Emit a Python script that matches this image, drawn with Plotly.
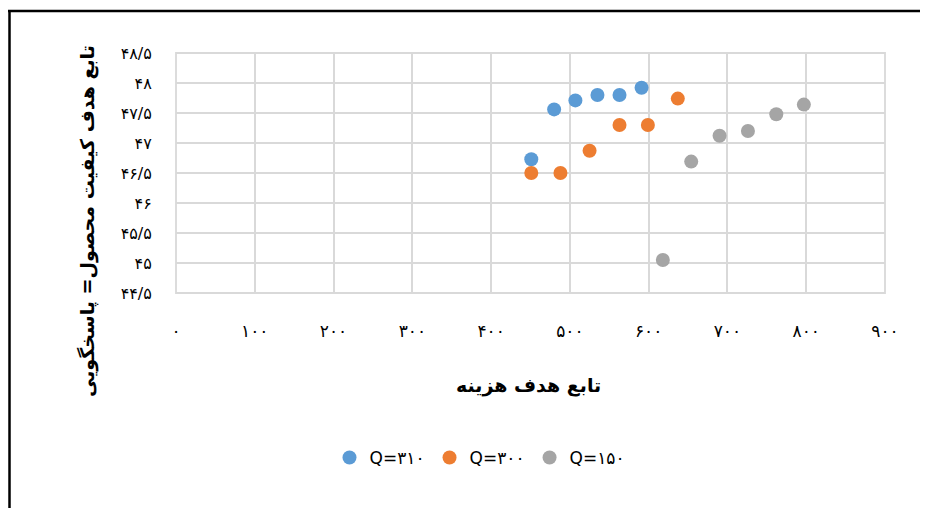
import plotly.graph_objects as go

# ---- data ----
q310_x = [451, 480, 507, 535, 563, 591]
q310_y = [46.73, 47.56, 47.71, 47.80, 47.80, 47.92]

q300_x = [451, 488, 525, 563, 599, 637]
q300_y = [46.50, 46.50, 46.87, 47.30, 47.30, 47.74]

q150_x = [618, 654, 690, 726, 762, 797]
q150_y = [45.05, 46.69, 47.12, 47.20, 47.48, 47.64]

series_names = ["Q=۳۱۰", "Q=۳۰۰", "Q=۱۵۰"]
series_colors = ["#5B9BD5", "#ED7D31", "#A5A5A5"]

x_tickvals = [0, 100, 200, 300, 400, 500, 600, 700, 800, 900]
x_ticktext = ["۰", "۱۰۰", "۲۰۰", "۳۰۰", "۴۰۰", "۵۰۰", "۶۰۰", "۷۰۰", "۸۰۰", "۹۰۰"]
y_tickvals = [44.5, 45, 45.5, 46, 46.5, 47, 47.5, 48, 48.5]
y_ticktext = ["۴۴/۵", "۴۵", "۴۵/۵", "۴۶", "۴۶/۵", "۴۷", "۴۷/۵", "۴۸", "۴۸/۵"]

x_title = "تابع هدف هزینه"
y_title = "تابع هدف کیفیت محصول= پاسخگویی"

FONT = "DejaVu Sans"

fig = go.Figure()
for xs, ys, name, color in zip([q310_x, q300_x, q150_x], [q310_y, q300_y, q150_y],
                               series_names, series_colors):
    fig.add_trace(go.Scatter(x=xs, y=ys, mode="markers", name=name,
                             marker=dict(size=14, color=color, line=dict(width=0))))

# page body has an 8px margin; targets below are in screenshot pixels
OFF = 8
W, H = 920, 500
L, R, T, B = 176 - OFF, W - (885 - OFF), 53 - OFF, H - (293 - OFF)
pw, ph = W - L - R, H - T - B

def px(xp):
    return (xp - OFF - L) / pw

def py(yp):
    return (H - B - (yp - OFF)) / ph

fig.update_layout(
    width=W, height=H,
    margin=dict(l=L, r=R, t=T, b=B),
    paper_bgcolor="white", plot_bgcolor="white",
    font=dict(family=FONT, color="#000000"),
    showlegend=True,
    legend=dict(orientation="h", x=px(480), y=py(458), xanchor="center", yanchor="middle",
                font=dict(size=17, color="#000000", family=FONT), itemsizing="trace",
                itemwidth=30, tracegroupgap=0),
    xaxis=dict(range=[0, 900], tickvals=x_tickvals, ticktext=x_ticktext,
               showgrid=True, gridcolor="#D9D9D9", gridwidth=1.8,
               zeroline=False, showline=False, ticks="outside", ticklen=0,
               ticklabelstandoff=23, tickfont=dict(size=17, color="#000000")),
    yaxis=dict(range=[44.5, 48.5], tickvals=y_tickvals, ticktext=y_ticktext,
               showgrid=True, gridcolor="#D9D9D9", gridwidth=1.8,
               zeroline=False, showline=False, ticks="outside", ticklen=0,
               ticklabelstandoff=20, tickfont=dict(size=16, color="#000000")),
    annotations=[
        dict(text="<b>" + x_title + "</b>", x=px(528), y=py(385), xref="paper", yref="paper",
             showarrow=False, xanchor="center", yanchor="middle",
             font=dict(size=19, color="#000000", family=FONT)),
        dict(text="<b>" + y_title + "</b>", x=px(87), y=py(221), xref="paper", yref="paper",
             showarrow=False, xanchor="center", yanchor="middle", textangle=-90,
             font=dict(size=19, color="#000000", family=FONT)),
    ],
    shapes=[
        dict(type="line", xref="paper", yref="paper", x0=px(8), x1=px(932), y0=py(11), y1=py(11),
             line=dict(color="black", width=2.5)),
        dict(type="line", xref="paper", yref="paper", x0=px(9.5), x1=px(9.5), y0=py(11), y1=py(512),
             line=dict(color="black", width=2.5)),
        dict(type="rect", xref="paper", yref="paper", x0=0, x1=1, y0=0, y1=1,
             line=dict(color="#D9D9D9", width=1.8), layer="below"),
    ],
)

fig.write_html("out.html", config={"displayModeBar": False})
